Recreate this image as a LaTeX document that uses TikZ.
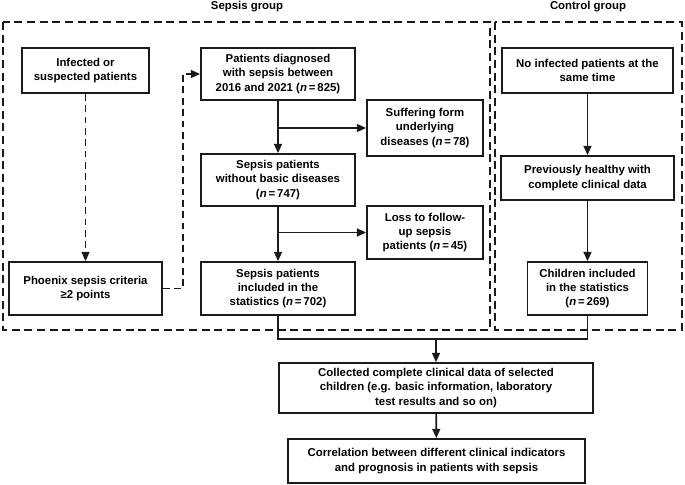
\documentclass[tikz,border=0pt]{standalone}
\usepackage{fontspec}
\setmainfont{Liberation Sans}
\usepackage{tikz}
\usetikzlibrary{positioning, arrows.meta}
\definecolor{flowInk}{HTML}{1A1A1A}

\begin{document}
\begin{tikzpicture}[x=0.75pt, y=-0.75pt,
    font=\fontsize{8.55}{10.7}\selectfont\bfseries,
    box/.style 2 args={draw=flowInk, line width=1.3pt, align=center, inner sep=0pt,
      minimum width=#1*0.75pt, minimum height=#2*0.75pt},
    groupFrame/.style={draw=flowInk, line width=0.9pt, dash pattern=on 6pt off 3.5pt},
    arr/.style={draw=flowInk, line width=1.2pt, -{Triangle[length=7pt, width=6pt]}},
    dashArr/.style={arr, dash pattern=on 5pt off 3.5pt},
    plainLine/.style={draw=flowInk, line width=1.2pt}]
  \useasboundingbox (0,0) rectangle (685,485);
  % group frames
  \draw[groupFrame] (3,22) rectangle (490,330);
  \draw[groupFrame] (495,22) rectangle (682,330);
  \node (sepsisTitle) at (247,7) {Sepsis group};
  \node (controlTitle) at (588,7) {Control group};
  % sepsis group
  \node[box={127}{45}] (infected) at (85.5,70.5) {Infected or\\suspected patients};
  \node[box={153}{53}] (phoenix) at (85.5,288.5) {Phoenix sepsis criteria\\≥2 points};
  \node[box={154}{52}] (diagnosed) at (278,74) {Patients diagnosed\\with sepsis between\\2016 and 2021 (\textit{n}\,=\,825)};
  \node[box={116}{56}] (underlying) at (425,128) {Suffering form\\underlying\\diseases (\textit{n}\,=\,78)};
  \node[box={154}{52}] (noBasic) at (278,180) {Sepsis patients\\without basic diseases\\(\textit{n}\,=\,747)};
  \node[box={116}{53}] (lost) at (425,232.5) {Loss to follow-\\up sepsis\\patients (\textit{n}\,=\,45)};
  \node[box={154}{53}] (sepsisIncl) at (278,288.5) {Sepsis patients\\included in the\\statistics (\textit{n}\,=\,702)};
  % control group
  \node[box={171}{45}] (noInfected) at (587.5,70.5) {No infected patients at the\\same time};
  \node[box={173}{44}] (healthy) at (587.5,178) {Previously healthy with\\complete clinical data};
  \node[box={120}{53}] (childIncl) at (587.5,288.5) {Children included\\in the statistics\\(\textit{n}\,=\,269)};
  % joint steps
  \node[box={314}{50}] (collected) at (436,388) {Collected complete clinical data of selected\\children (e.g. basic information, laboratory\\test results and so on)};
  \node[box={297}{44}] (correlation) at (436.5,461) {Correlation between different clinical indicators\\and prognosis in patients with sepsis};
  \coordinate (join) at (436,339);

  \draw[dashArr] (infected) -- (phoenix);
  \draw[dashArr] (phoenix.east) -- ++(20,0) |- (diagnosed.west);
  \draw[arr] (diagnosed) -- (noBasic);
  \draw[arr] (diagnosed.south |- underlying.west) -- (underlying.west);
  \draw[arr] (noBasic) -- (sepsisIncl);
  \draw[arr] (noBasic.south |- lost.west) -- (lost.west);
  \draw[arr] (noInfected) -- (healthy);
  \draw[arr] (healthy) -- (childIncl);
  \draw[plainLine] (sepsisIncl.south) |- (join) -| (childIncl.south);
  \draw[arr] (join) -- (collected);
  \draw[arr] (collected) -- (correlation);
\end{tikzpicture}
\end{document}
